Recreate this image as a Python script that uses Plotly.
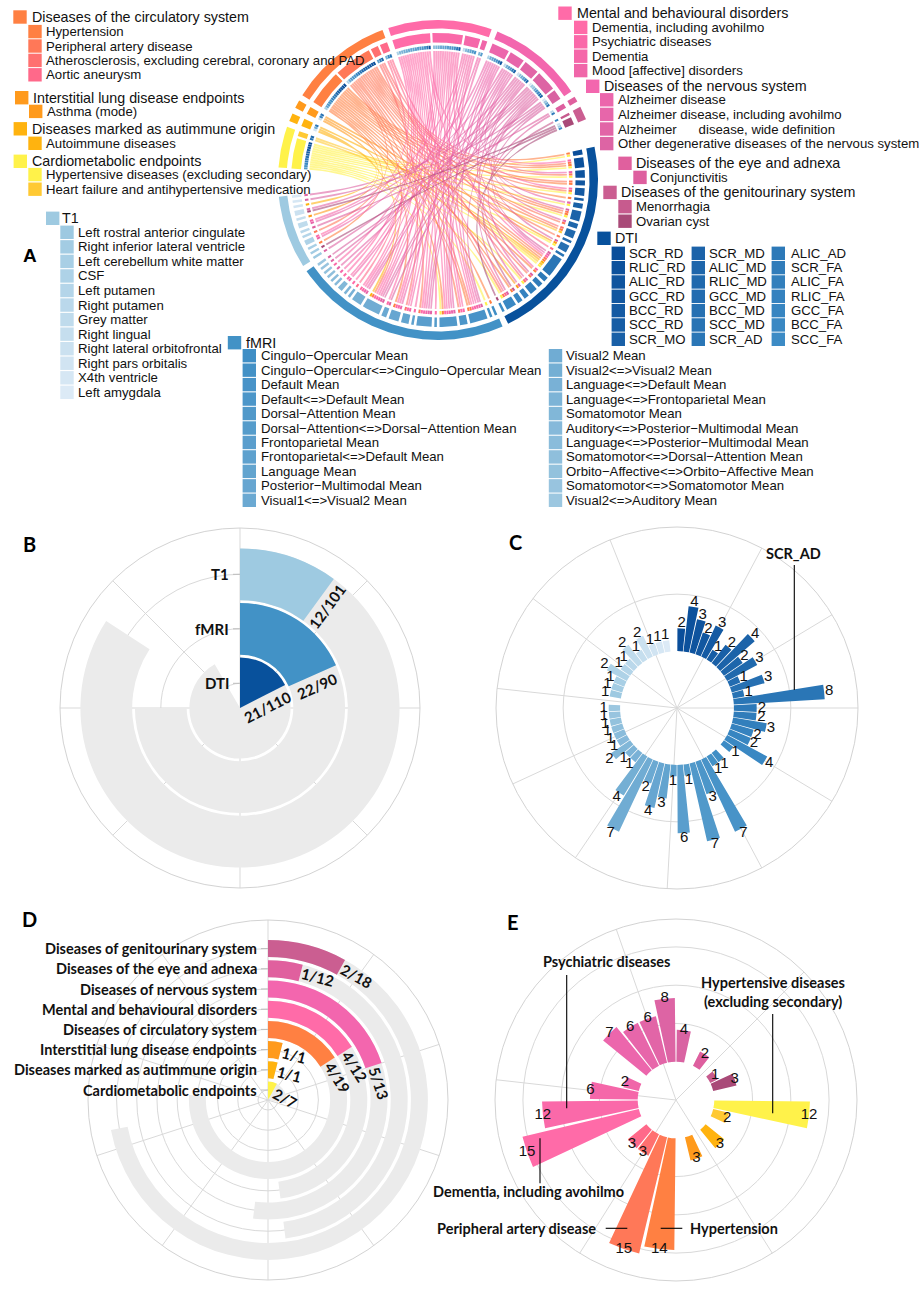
import numpy as np
import plotly.graph_objects as go

W, H = 923, 1289
LAB = "Liberation Sans, Arial, Helvetica, sans-serif"
CAL = "Lato, Carlito, Calibri, sans-serif"
INK = "#111111"

# ======================= DATA =======================
# disease endpoint groups (clockwise order on the chord diagram, starting left)
group_names = ["Cardiometabolic endpoints", "Diseases marked as autimmune origin",
               "Interstitial lung disease endpoints", "Diseases of the circulatory system",
               "Mental and behavioural disorders", "Diseases of the nervous system",
               "Diseases of the eye and adnexa", "Diseases of the genitourinary system"]
group_colors = ["#FFF24A", "#FFB30F", "#FF9A1C", "#FF8042", "#FF6BA8", "#F366AE", "#E0609E", "#CB5E91"]

disease_names = ["Hypertensive diseases (excluding secondary)",
                 "Heart failure and antihypertensive medication",
                 "Autoimmune diseases", "Asthma (mode)",
                 "Hypertension", "Peripheral artery disease",
                 "Atherosclerosis, excluding cerebral, coronary and PAD", "Aortic aneurysm",
                 "Dementia, including avohilmo", "Psychiatric diseases", "Dementia",
                 "Mood [affective] disorders",
                 "Alzheimer disease", "Alzheimer disease, including avohilmo",
                 "Alzheimer\u00a0\u00a0\u00a0\u00a0\u00a0\u00a0disease, wide definition",
                 "Other degenerative diseases of the nervous system",
                 "Alzheimer disease (other)",
                 "Conjunctivitis", "Menorrhagia", "Ovarian cyst"]
disease_group = [0, 0, 1, 2, 3, 3, 3, 3, 4, 4, 4, 4, 5, 5, 5, 5, 5, 6, 7, 7]
disease_colors = ["#FFF24A", "#FFC933", "#FFB30F", "#FF9A1C", "#FF8042", "#FF7858", "#FF7070",
                  "#FF698A", "#FF6BA8", "#FA69A9", "#F567A9", "#F066A9", "#EC66AC", "#E766AA",
                  "#E265A7", "#DD64A4", "#D963A2", "#DE5F9F", "#C75B8E", "#A94A78"]
# panel E : number of associated imaging features per endpoint
disease_counts = [12, 2, 3, 3, 14, 15, 3, 3, 15, 12, 6, 2, 7, 6, 6, 8, 4, 2, 1, 3]

# imaging features
mod_names = ["DTI", "fMRI", "T1"]
mod_colors = ["#08519C", "#4292C6", "#9ECAE1"]
dti_names = ["SCR_RD", "RLIC_RD", "ALIC_RD", "GCC_RD", "BCC_RD", "SCC_RD", "SCR_MO",
             "SCR_MD", "ALIC_MD", "RLIC_MD", "GCC_MD", "BCC_MD", "SCC_MD", "SCR_AD",
             "ALIC_AD", "SCR_FA", "ALIC_FA", "RLIC_FA", "GCC_FA", "BCC_FA", "SCC_FA"]
dti_counts = [2, 4, 3, 2, 3, 1, 2, 4, 2, 3, 1, 3, 1, 8, 2, 2, 3, 2, 2, 4, 1]
fmri_names = ["Cingulo\u2212Opercular Mean", "Cingulo\u2212Opercular<=>Cingulo\u2212Opercular Mean",
              "Default Mean", "Default<=>Default Mean", "Dorsal\u2212Attention Mean",
              "Dorsal\u2212Attention<=>Dorsal\u2212Attention Mean", "Frontoparietal Mean",
              "Frontoparietal<=>Default Mean", "Language Mean", "Posterior\u2212Multimodal Mean",
              "Visual1<=>Visual2 Mean", "Visual2 Mean", "Visual2<=>Visual2 Mean",
              "Language<=>Default Mean", "Language<=>Frontoparietal Mean", "Somatomotor Mean",
              "Auditory<=>Posterior\u2212Multimodal Mean", "Language<=>Posterior\u2212Multimodal Mean",
              "Somatomotor<=>Dorsal\u2212Attention Mean", "Orbito\u2212Affective<=>Orbito\u2212Affective Mean",
              "Somatomotor<=>Somatomotor Mean", "Visual2<=>Auditory Mean"]
fmri_counts = [1, 1, 7, 3, 7, 1, 6, 1, 3, 4, 2, 7, 4, 1, 1, 2, 1, 1, 1, 1, 1, 1]
t1_names = ["Left rostral anterior cingulate", "Right inferior lateral ventricle",
            "Left cerebellum white matter", "CSF", "Left putamen", "Right putamen",
            "Grey matter", "Right lingual", "Right lateral orbitofrontal",
            "Right pars orbitalis", "X4th ventricle", "Left amygdala"]
t1_counts = [1, 1, 1, 2, 1, 1, 2, 1, 2, 1, 1, 1]

# chord links: for every imaging feature, the endpoints (index into disease_names) it links to
dti_links = [[0, 4], [0, 4, 5, 8], [0, 5, 12], [4, 5], [0, 5, 9], [4], [0, 13], [0, 4, 5, 15],
             [5, 14], [1, 4, 6], [5], [0, 3, 15], [7], [0, 1, 2, 4, 5, 8, 12, 16], [4, 9],
             [5, 17], [0, 6, 13], [3, 14], [4, 18], [0, 5, 7, 15], [19]]
fmri_links = [[4], [0], [4, 5, 8, 9, 10, 12, 15], [5, 8, 9], [0, 4, 8, 9, 10, 12, 13], [8],
              [5, 8, 9, 11, 13, 14], [9], [6, 8, 10], [4, 8, 9, 12], [8, 16],
              [2, 5, 8, 9, 10, 14, 15], [8, 9, 12, 13], [7], [8], [9, 11], [8], [10], [14],
              [9], [15], [16]]
t1_links = [[15], [19], [4], [8, 12], [5], [17], [10, 13], [3], [14, 19], [2], [16], [15]]

# panel B
b_labels = ["DTI", "fMRI", "T1"]
b_sig = [21, 22, 12]
b_total = [110, 90, 101]
# panel D (inner -> outer)
d_labels = ["Cardiometabolic endpoints", "Diseases marked as autimmune origin",
            "Interstitial lung disease endpoints", "Diseases of circulatory system",
            "Mental and behavioural disorders", "Diseases of nervous system",
            "Diseases of the eye and adnexa", "Diseases of genitourinary system"]
d_sig = [2, 1, 1, 4, 4, 5, 1, 2]
d_total = [7, 1, 1, 19, 12, 13, 12, 18]


# ======================= helpers =======================
def hex2rgb(h):
    h = h.lstrip('#')
    return tuple(int(h[i:i + 2], 16) for i in (0, 2, 4))


def rgba(h, a):
    r, g, b = hex2rgb(h)
    return f"rgba({r},{g},{b},{a})"


def grad(c1, c2, n):
    a = np.array(hex2rgb(c1), float)
    b = np.array(hex2rgb(c2), float)
    return ['#%02X%02X%02X' % tuple(int(round(v)) for v in a + (b - a) * t)
            for t in np.linspace(0, 1, n)]


def esc(s):
    return s.replace('<', '&lt;').replace('>', '&gt;')


dti_colors = grad("#0A4E9A", "#3C8BC5", len(dti_names))
fmri_colors = grad("#3F8EC5", "#9CC7E0", len(fmri_names))
t1_colors = grad("#9DC9E1", "#DCEAF6", len(t1_names))

feat_names = dti_names + fmri_names + t1_names
feat_counts = dti_counts + fmri_counts + t1_counts
feat_colors = dti_colors + fmri_colors + t1_colors
feat_group = [0] * len(dti_names) + [1] * len(fmri_names) + [2] * len(t1_names)
feat_links = dti_links + fmri_links + t1_links

fig = go.Figure()

# ======================= PANEL A : chord diagram =======================
CX, CY = 438.0, 180.0
R_CH = 129.0
R_IN = (131.0, 134.5)
R_MID = (137.5, 147.0)
R_OUT = (151.5, 160.0)
UNIT = 1.0
PAD = 0.06


def layout_sectors(counts, groups, start, unit, gap_item, gap_group):
    spans, a = [], start
    for i, c in enumerate(counts):
        if i > 0:
            a -= gap_group if groups[i] != groups[i - 1] else gap_item
        spans.append((a, a - c * unit))
        a -= c * unit
    return spans


nD = len(disease_names)
d_links = [[] for _ in range(nD)]
for j, ds in enumerate(feat_links):
    for d in ds:
        d_links[d].append(j)

d_spans = layout_sectors([len(x) for x in d_links], disease_group, 175.5, UNIT, 0.9, 2.2)
f_spans = layout_sectors([len(x) for x in feat_links], feat_group, 12.0, UNIT, 1.05, 2.2)
d_mid = [(s + e) / 2 for s, e in d_spans]
f_mid = [(s + e) / 2 for s, e in f_spans]
d_order = [sorted(d_links[d], key=lambda j: f_mid[j]) for d in range(nD)]
f_order = [sorted(feat_links[j], key=lambda d: d_mid[d]) for j in range(len(feat_names))]


def P(r, a):
    t = np.radians(a)
    return np.array([CX + r * np.cos(t), CY - r * np.sin(t)])


def arc(r, a1, a2, n=6):
    t = np.radians(np.linspace(a1, a2, n))
    return np.column_stack([CX + r * np.cos(t), CY - r * np.sin(t)])


def bez(p0, p2, n=40):
    t = np.linspace(0, 1, n)[:, None]
    c = np.array([CX, CY])
    return (1 - t) ** 2 * p0 + 2 * t * (1 - t) * c + t ** 2 * p2


def ring(r1, r2, a1, a2):
    n = max(4, int(abs(a1 - a2) * 2) + 2)
    return np.vstack([arc(r2, a1, a2, n), arc(r1, a2, a1, n)])


chords = {}
blocks = {}


def add(store, key, pts):
    X, Y = store.setdefault(key, ([], []))
    X.extend(list(pts[:, 0]) + [pts[0, 0], None])
    Y.extend(list(pts[:, 1]) + [pts[0, 1], None])


for d in range(nD):
    for j in d_links[d]:
        kd = d_order[d].index(j)
        kf = f_order[j].index(d)
        a_s = d_spans[d][0] - kd * UNIT - PAD
        a_e = d_spans[d][0] - (kd + 1) * UNIT + PAD
        b_s = f_spans[j][0] - kf * UNIT - PAD
        b_e = f_spans[j][0] - (kf + 1) * UNIT + PAD
        pts = np.vstack([arc(R_CH, a_s, a_e), bez(P(R_CH, a_e), P(R_CH, b_s)),
                         arc(R_CH, b_s, b_e), bez(P(R_CH, b_e), P(R_CH, a_s))])
        add(chords, d, pts)
        add(blocks, feat_colors[j], ring(R_IN[0], R_IN[1], a_s, a_e))
        add(blocks, disease_colors[d], ring(R_IN[0], R_IN[1], b_s, b_e))

for d in range(nD):
    if d in chords:
        X, Y = chords[d]
        fig.add_trace(go.Scatter(x=X, y=Y, mode='lines', fill='toself',
                                 fillcolor=rgba(disease_colors[d], 0.6),
                                 line=dict(width=0, color=rgba(disease_colors[d], 0.6)),
                                 hoverinfo='skip', showlegend=False))

# middle ring (items) and outer ring (groups)
for d in range(nD):
    add(blocks, disease_colors[d], ring(R_MID[0], R_MID[1], d_spans[d][0], d_spans[d][1]))
for j in range(len(feat_names)):
    add(blocks, feat_colors[j], ring(R_MID[0], R_MID[1], f_spans[j][0], f_spans[j][1]))
for g in range(len(group_names)):
    idx = [i for i in range(nD) if disease_group[i] == g]
    add(blocks, group_colors[g], ring(R_OUT[0], R_OUT[1], d_spans[idx[0]][0], d_spans[idx[-1]][1]))
for g in range(3):
    idx = [i for i in range(len(feat_names)) if feat_group[i] == g]
    add(blocks, "OUT" + mod_colors[g], ring(R_OUT[0], R_OUT[1], f_spans[idx[0]][0], f_spans[idx[-1]][1]))

for key, (X, Y) in blocks.items():
    col = key[3:] if key.startswith("OUT") else key
    fig.add_trace(go.Scatter(x=X, y=Y, mode='lines', fill='toself', fillcolor=col,
                             line=dict(width=0, color=col), hoverinfo='skip', showlegend=False))

# ---------- panel A legends ----------
leg = []  # (square centre x, y, colour, text, font size, text x)


def L(sqx, y, color, text, size, tx):
    leg.append((sqx, y, color, text, size, tx))


HS, IS = 14.3, 13.2
L(20.0, 17.0, group_colors[3], group_names[3], HS, 30.5)
for k, d in enumerate([4, 5, 6, 7]):
    L(35.0, 31.6 + 14.4 * k, disease_colors[d], disease_names[d], IS, 45.0)
L(21.7, 97.7, group_colors[2], group_names[2], HS, 31.7)
L(35.7, 111.4, disease_colors[3], disease_names[3], IS, 45.5)
L(20.3, 128.8, group_colors[1], group_names[1], HS, 30.7)
L(35.0, 143.3, disease_colors[2], disease_names[2], IS, 45.0)
L(20.3, 161.3, group_colors[0], group_names[0], HS, 30.7)
L(35.0, 174.6, disease_colors[0], disease_names[0], IS, 45.0)
L(35.0, 189.2, disease_colors[1], disease_names[1], IS, 45.0)

L(565.0, 13.2, group_colors[4], group_names[4], HS, 576.0)
for k, d in enumerate([8, 9, 10, 11]):
    L(580.7, 27.4 + 14.4 * k, disease_colors[d], disease_names[d], IS, 590.7)
L(592.7, 86.3, group_colors[5], group_names[5], HS, 602.7)
for k, d in enumerate([12, 13, 14, 15]):
    L(606.7, 99.8 + 14.6 * k, disease_colors[d], disease_names[d], IS, 617.3)
L(625.0, 163.3, group_colors[6], group_names[6], HS, 635.0)
L(640.0, 177.4, disease_colors[17], disease_names[17], IS, 649.3)
L(610.0, 192.4, group_colors[7], group_names[7], HS, 620.0)
L(625.0, 206.7, disease_colors[18], disease_names[18], IS, 634.7)
L(625.0, 221.2, disease_colors[19], disease_names[19], IS, 634.7)
L(604.0, 238.3, mod_colors[0], mod_names[0], HS, 614.0)
for k in range(len(dti_names)):
    c, r = divmod(k, 7)
    L([618.3, 698.3, 778.3][c], 253.3 + 14.33 * r, dti_colors[k], dti_names[k], IS, [628.3, 708.3, 790.0][c])
L(52.7, 218.3, mod_colors[2], mod_names[2], HS, 61.3)
for k in range(len(t1_names)):
    L(67.0, 232.3 + 14.55 * k, t1_colors[k], t1_names[k], IS, 77.3)
L(234.5, 342.7, mod_colors[1], mod_names[1], HS, 244.5)
for k in range(len(fmri_names)):
    c, r = divmod(k, 11)
    L([249.3, 555.5][c], 355.7 + 14.46 * r, fmri_colors[k], fmri_names[k], IS, [259.5, 564.9][c])

fig.add_trace(go.Scatter(x=[l[0] for l in leg], y=[l[1] for l in leg], mode='markers',
                         marker=dict(symbol='square', size=13.4, color=[l[2] for l in leg],
                                     line=dict(width=0)),
                         hoverinfo='skip', showlegend=False))
annotations = []
for sqx, y, col, text, size, tx in leg:
    annotations.append(dict(x=tx, y=y, xref='x', yref='y', text=esc(text), showarrow=False,
                            xanchor='left', yanchor='middle', borderpad=0,
                            font=dict(family=LAB, size=size, color=INK)))

shapes = []


def seg(x0, y0, x1, y1, color='black', width=1.1):
    shapes.append(dict(type='line', xref='x', yref='y', x0=x0, y0=y0, x1=x1, y1=y1,
                       line=dict(color=color, width=width)))


# ======================= PANEL B =======================
B_CX, B_CY, B_R = 240.0, 708.0, 180.0
B_PITCH, B_R0, B_TH = 54.5, 24.7, 0.95
b_rmin = 1 - B_R0 / B_PITCH
b_rmax = b_rmin + B_R / B_PITCH
B_DEG = 3.0  # degrees per endpoint (full circle = 120)
b_base = [max(k + 1 - B_TH / 2, b_rmin) for k in range(3)]
b_len = [k + 1 + B_TH / 2 - b_base[k] for k in range(3)]
b_colors = [mod_colors[0], mod_colors[1], mod_colors[2]]
fig.add_trace(go.Barpolar(subplot='polar', r=b_len, base=b_base,
                          theta=[B_DEG * t / 2 for t in b_total], width=[B_DEG * t for t in b_total],
                          marker=dict(color='#EBEBEB', line=dict(width=0)), hoverinfo='skip',
                          showlegend=False))
fig.add_trace(go.Barpolar(subplot='polar', r=b_len, base=b_base,
                          theta=[B_DEG * s / 2 for s in b_sig], width=[B_DEG * s for s in b_sig],
                          marker=dict(color=b_colors, line=dict(width=0)), hoverinfo='skip',
                          showlegend=False))
for k in range(3):
    rc = B_R0 + B_PITCH * k
    seg(B_CX - 7, B_CY - rc, B_CX, B_CY - rc, '#BDBDBD', 1)
    annotations.append(dict(x=B_CX - 9, y=B_CY - rc, xref='x', yref='y', text=f"<b>{b_labels[k]}</b>",
                            showarrow=False, xanchor='right', yanchor='middle',
                            font=dict(family=CAL, size=15, color=INK)))
    phi = 90 - B_DEG * b_sig[k]
    pr = np.radians(phi)
    x = B_CX + rc * np.cos(pr) + 11 * np.sin(pr)
    y = B_CY - rc * np.sin(pr) + 11 * np.cos(pr)
    annotations.append(dict(x=x, y=y, xref='x', yref='y', text=f"<b>{b_sig[k]}/{b_total[k]}</b>",
                            showarrow=False, xanchor='center', yanchor='middle', textangle=-phi,
                            font=dict(family=CAL, size=15, color=INK)))

# ======================= PANEL D =======================
D_CX, D_CY, D_R = 268.0, 1100.0, 180.0
D_PITCH, D_R0, D_TH = 20.2, 10.0, 0.84
d_rmin = 1 - D_R0 / D_PITCH
d_rmax = d_rmin + D_R / D_PITCH
D_DEG = 14.4  # degrees per endpoint (full circle = 25)
nR = len(d_labels)
d_base = [max(k + 1 - D_TH / 2, d_rmin) for k in range(nR)]
d_len = [k + 1 + D_TH / 2 - d_base[k] for k in range(nR)]
fig.add_trace(go.Barpolar(subplot='polar3', r=d_len, base=d_base,
                          theta=[D_DEG * t / 2 for t in d_total], width=[D_DEG * t for t in d_total],
                          marker=dict(color='#EBEBEB', line=dict(width=0)), hoverinfo='skip',
                          showlegend=False))
fig.add_trace(go.Barpolar(subplot='polar3', r=d_len, base=d_base,
                          theta=[D_DEG * s / 2 for s in d_sig], width=[D_DEG * s for s in d_sig],
                          marker=dict(color=group_colors, line=dict(width=0)), hoverinfo='skip',
                          showlegend=False))
for k in range(nR):
    rc = D_R0 + D_PITCH * k
    seg(D_CX - 7, D_CY - rc, D_CX, D_CY - rc, '#BDBDBD', 1)
    annotations.append(dict(x=D_CX - 9, y=D_CY - rc, xref='x', yref='y', text=f"<b>{d_labels[k]}</b>",
                            showarrow=False, xanchor='right', yanchor='middle',
                            font=dict(family=CAL, size=14.5, color=INK)))
    phi = 90 - D_DEG * d_sig[k]
    pr = np.radians(phi)
    txt = f"{d_sig[k]}/{d_total[k]}"
    half = len(txt) * 0.53 * 15 / 2
    x = D_CX + rc * np.cos(pr) + (half + 2) * np.sin(pr)
    y = D_CY - rc * np.sin(pr) + (half + 2) * np.cos(pr)
    annotations.append(dict(x=x, y=y, xref='x', yref='y', text=f"<b>{txt}</b>",
                            showarrow=False, xanchor='center', yanchor='middle', textangle=90 - phi,
                            font=dict(family=CAL, size=15, color=INK)))

# ======================= PANEL C =======================
C_SLOTS = 58
C_SLOT = 360.0 / C_SLOTS
c_theta, s = [], 0
for g in range(3):
    for j in range(len(feat_names)):
        if feat_group[j] == g:
            c_theta.append((s + 0.5) * C_SLOT)
            s += 1
    s += 1
fig.add_trace(go.Barpolar(subplot='polar2', r=feat_counts, base=[0] * len(feat_counts),
                          theta=c_theta, width=[C_SLOT * 0.9] * len(feat_counts),
                          marker=dict(color=feat_colors, line=dict(width=0)),
                          hoverinfo='skip', showlegend=False))
fig.add_trace(go.Scatterpolar(subplot='polar2', r=[v + 0.45 for v in feat_counts], theta=c_theta,
                              mode='text', text=[str(v) for v in feat_counts],
                              textfont=dict(family=LAB, size=15, color=INK),
                              hoverinfo='skip', showlegend=False))

# ======================= PANEL E =======================
E_SLOTS = 28
E_SLOT = 360.0 / E_SLOTS
e_theta, s = [], 0
for g in range(len(group_names)):
    for d in range(nD):
        if disease_group[d] == g:
            e_theta.append((s + 0.5) * E_SLOT)
            s += 1
    s += 1
fig.add_trace(go.Barpolar(subplot='polar4', r=disease_counts, base=[0] * nD,
                          theta=e_theta, width=[E_SLOT * 0.9] * nD,
                          marker=dict(color=disease_colors, line=dict(width=0)),
                          hoverinfo='skip', showlegend=False))
fig.add_trace(go.Scatterpolar(subplot='polar4', r=disease_counts, theta=e_theta,
                              mode='text', text=[str(v) for v in disease_counts],
                              textfont=dict(family=LAB, size=15, color=INK),
                              hoverinfo='skip', showlegend=False))


# ---------- call-outs ----------
def lab(x, y, text, anchor='center', size=14.5):
    annotations.append(dict(x=x, y=y, xref='x', yref='y', text=f"<b>{text}</b>", showarrow=False,
                            xanchor=anchor, yanchor='middle', font=dict(family=CAL, size=size, color=INK)))


lab(793.7, 553.3, dti_names[13])
seg(794.3, 565, 794.3, 690)
lab(606.7, 961.7, disease_names[9])
seg(566.7, 975, 566.7, 1108.3)
lab(772.5, 982.3, "Hypertensive diseases")
lab(772.5, 1001.0, "(excluding secondary)")
seg(772.7, 1014, 772.7, 1113.3)
lab(626.0, 1191.0, disease_names[8], anchor='right')
seg(540.0, 1138.3, 540.0, 1183.3)
lab(597.5, 1228.3, disease_names[5], anchor='right')
seg(605.7, 1228.3, 627.3, 1228.3)
lab(687.5, 1228.3, disease_names[4], anchor='left')
seg(660.7, 1228.3, 682.3, 1228.3)

# panel letters
for t, x, y, fam, sz in [("A", 30, 255, LAB, 19), ("B", 29, 543.5, CAL, 20), ("C", 515.5, 542, CAL, 20),
                         ("D", 29.5, 918.5, CAL, 20), ("E", 513, 921.7, CAL, 20)]:
    annotations.append(dict(x=x, y=y, xref='x', yref='y', text=f"<b>{t}</b>", showarrow=False,
                            xanchor='center', yanchor='middle', font=dict(family=fam, size=sz, color='black')))


# ======================= LAYOUT =======================
def dom(cx, cy, r):
    return dict(x=[(cx - r) / W, (cx + r) / W], y=[1 - (cy + r) / H, 1 - (cy - r) / H])


GRID = '#D9D9D9'


def ring_polar(domain, rrange, rticks, aticks):
    return dict(domain=domain, bgcolor='white', barmode='overlay',
                radialaxis=dict(range=rrange, tickvals=rticks, showticklabels=False, ticks='',
                                showline=False, gridcolor=GRID, angle=90, layer='below traces'),
                angularaxis=dict(direction='clockwise', rotation=90, tickvals=aticks,
                                 showticklabels=False, ticks='', gridcolor=GRID, showline=True,
                                 linecolor='#D3D3D3', layer='below traces'))


def bar_polar(domain, rrange, rticks, aticks, rot):
    return dict(domain=domain, bgcolor='white', barmode='overlay',
                radialaxis=dict(range=rrange, tickvals=rticks, showticklabels=False, ticks='',
                                showline=False, gridcolor=GRID, layer='below traces'),
                angularaxis=dict(direction='clockwise', rotation=rot, tickvals=aticks,
                                 showticklabels=False, ticks='', gridcolor=GRID, showline=True,
                                 linecolor='#D3D3D3', layer='below traces'))


fig.update_layout(
    width=W, height=H, autosize=False, margin=dict(l=0, r=0, t=0, b=0),
    paper_bgcolor='white', plot_bgcolor='rgba(0,0,0,0)', hovermode=False, showlegend=False,
    xaxis=dict(range=[0, W], domain=[0, 1], visible=False, fixedrange=True),
    yaxis=dict(range=[H, 0], domain=[0, 1], visible=False, fixedrange=True),
    polar=ring_polar(dom(B_CX, B_CY, B_R), [b_rmin, b_rmax], [1, 2, 3], list(range(0, 360, 45))),
    polar3=ring_polar(dom(D_CX, D_CY, D_R), [d_rmin, d_rmax], list(range(1, nR + 1)),
                      [36 * k for k in range(10)]),
    polar2=bar_polar(dom(677, 708, 181), [-5, 10.9], [5],
                     [(i + 0.5) * C_SLOT for i in range(4, C_SLOTS, 5)], 90),
    polar4=bar_polar(dom(676, 1100, 181), [-4.8, 17.9], [4.8, 9.6, 14.4],
                     [(i + 0.5) * E_SLOT for i in range(4, E_SLOTS, 5)], 0),
    annotations=annotations, shapes=shapes,
)

fig.write_html("out.html", config={'displayModeBar': False, 'staticPlot': True},
               post_script="document.body.style.margin='0px';document.body.style.overflow='hidden';")
